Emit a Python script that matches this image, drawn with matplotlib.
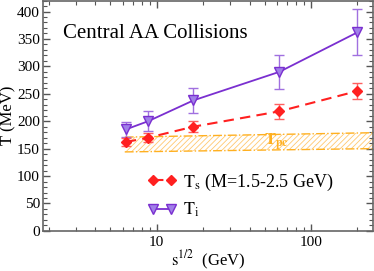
import matplotlib
matplotlib.use("Agg")
import matplotlib.pyplot as plt
from matplotlib.ticker import LogLocator, MultipleLocator, NullFormatter, FixedLocator, FixedFormatter
import numpy as np

plt.rcParams['font.family'] = ['Liberation Serif', 'DejaVu Serif']
plt.rcParams['mathtext.fontset'] = 'stix'
plt.rcParams['hatch.linewidth'] = 0.6

# data
sqrt_s = [6.3, 8.8, 17.3, 62.4, 200.0]
T_s = [162, 170, 190, 218, 255]
T_s_err = [7, 8, 10, 14, 15]
T_i = [185, 200, 238, 290, 362]
T_i_err = [13, 18, 23, 31, 42]
band_x = [6.2, 252.0]
band_lo = [144, 150]
band_hi = [171, 179]

fig = plt.figure(figsize=(3.74, 2.71), dpi=100)
ax = fig.add_axes([0.116, 0.148, 0.881, 0.85])

red = '#ff2020'
purple = '#7a2fd0'

ax.fill_between(band_x, band_lo, band_hi, facecolor='none', edgecolor='#ffc870',
                hatch='//////', linewidth=0)
ax.plot(band_x, band_lo, color='#ffb020', ls='-.', lw=1.0)
ax.plot(band_x, band_hi, color='#ffb020', ls='-.', lw=1.0)
ax.text(60, 162, r'$\mathbf{T_{pc}}$', color='#ffb020', fontsize=12, ha='center', va='center')

ax.errorbar(sqrt_s, T_i, yerr=T_i_err, fmt='none', ecolor='#a070e0', elinewidth=1.0, capsize=3.5, capthick=1.0)
ax.errorbar(sqrt_s, T_s, yerr=T_s_err, fmt='none', ecolor='#ff6060', elinewidth=1.0, capsize=3.5, capthick=1.0)
ax.plot(sqrt_s, T_s, color=red, ls=(0, (5, 3)), lw=1.5, marker='D', ms=5.5,
        mfc=red, mec=red, label=r'$\mathrm{T_s}$ (M=1.5-2.5 GeV)')
ax.plot(sqrt_s, T_i, color=purple, ls='-', lw=1.3, marker='v', ms=6.5,
        mfc='#a080e8', mec=purple, label=r'$\mathrm{T_i}$')

ax.set_xscale('log')
ax.set_xlim(1.84, 252)
ax.set_ylim(0, 420)
ax.xaxis.set_major_locator(FixedLocator([10, 100]))
ax.xaxis.set_major_formatter(FixedFormatter(['10', '100']))
ax.xaxis.set_minor_locator(LogLocator(base=10, subs=np.arange(2, 10)))
ax.xaxis.set_minor_formatter(NullFormatter())
ax.yaxis.set_major_locator(MultipleLocator(50))
ax.yaxis.set_minor_locator(MultipleLocator(10))

ax.tick_params(which='both', direction='in', top=True, right=True, labelsize=11, colors='#555555', labelcolor='black')
ax.tick_params(which='major', length=5, width=1.0)
ax.tick_params(which='minor', length=3, width=0.8)
ax.tick_params(axis='y', pad=2.5)
for s in ax.spines.values():
    s.set_color('#666666')
    s.set_linewidth(1.2)

fig.text(0.022, 0.576, 'T (MeV)', rotation=90, fontsize=12, ha='center', va='center')
ax.set_xlabel(r'$\mathrm{s}^{1/2}$  (GeV)', fontsize=12, labelpad=0)

ax.text(0.06, 0.855, 'Central AA Collisions', transform=ax.transAxes, fontsize=15,
        ha='left', va='center')

ax.legend(loc='lower left', bbox_to_anchor=(0.315, 0.05), frameon=False, numpoints=2,
          fontsize=13, handlelength=1.6, handletextpad=0.4, labelspacing=0.45,
          borderpad=0, borderaxespad=0)

fig.savefig('out.png', dpi=100)
